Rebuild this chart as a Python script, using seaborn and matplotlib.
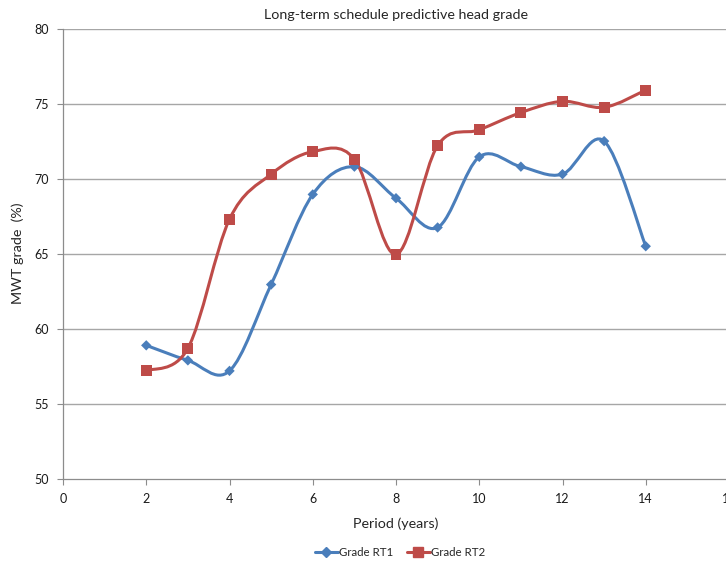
import numpy as np
import pandas as pd
import seaborn as sns
import matplotlib.pyplot as plt
from matplotlib.path import Path
from matplotlib.patches import PathPatch
from matplotlib.lines import Line2D

# values
periods = [2, 3, 4, 5, 6, 7, 8, 9, 10, 11, 12, 13, 14]
grade_rt1 = [58.9, 57.9, 57.2, 62.95, 68.95, 70.8, 68.7, 66.75, 71.45, 70.8, 70.3, 72.5, 65.5]
grade_rt2 = [57.2, 58.7, 67.3, 70.3, 71.8, 71.3, 64.95, 72.2, 73.25, 74.4, 75.15, 74.75, 75.9]
series_names = ['Grade RT1', 'Grade RT2']
y_ticks = [50, 55, 60, 65, 70, 75, 80]
x_ticks = [0, 2, 4, 6, 8, 10, 12, 14, 16]

BLUE = '#4A7EBB'
RED = '#BE4B48'


def smooth_path(xs, ys):
    # excel-like smoothed line: cubic bezier segments through each point
    pts = np.column_stack([xs, ys]).astype(float)
    n = len(pts)
    verts = [pts[0]]
    codes = [Path.MOVETO]
    for i in range(n - 1):
        p0 = pts[i - 1] if i > 0 else pts[i]
        p1 = pts[i]
        p2 = pts[i + 1]
        p3 = pts[i + 2] if i + 2 < n else pts[i + 1]
        c1 = p1 + (p2 - p0) / 6.0
        c2 = p2 - (p3 - p1) / 6.0
        verts += [c1, c2, p2]
        codes += [Path.CURVE4] * 3
    return Path(verts, codes)


df = pd.concat([
    pd.DataFrame({'Period': periods, 'Grade': grade_rt1, 'Series': series_names[0]}),
    pd.DataFrame({'Period': periods, 'Grade': grade_rt2, 'Series': series_names[1]}),
], ignore_index=True)

sns.set_style('white')
plt.rcParams['font.family'] = ['Lato', 'DejaVu Sans']

fig = plt.figure(figsize=(7.26, 5.64), dpi=100)
ax = fig.add_axes([63 / 726, 85 / 564, 666 / 726, 450.5 / 564])
ax.set_xlim(0, 16)
ax.set_ylim(50, 80)

for yv in y_ticks[1:]:
    ax.axhline(yv, color='#a6a6a6', lw=1.0, zorder=0)

# smoothed lines
for name, vals, col in [(series_names[0], grade_rt1, BLUE), (series_names[1], grade_rt2, RED)]:
    ax.add_patch(PathPatch(smooth_path(periods, vals), facecolor='none',
                           edgecolor=col, lw=2.2, zorder=2, capstyle='round'))

sns.scatterplot(data=df, x='Period', y='Grade', hue='Series', style='Series',
                markers={series_names[0]: 'D', series_names[1]: 's'},
                palette={series_names[0]: BLUE, series_names[1]: RED},
                size='Series', sizes={series_names[0]: 28, series_names[1]: 62},
                edgecolor='none', legend=False, ax=ax, zorder=3)

ax.set_xticks(x_ticks)
ax.set_yticks(y_ticks)
ax.tick_params(axis='both', direction='out', length=4, width=0.8, color='#8c8c8c',
               labelsize=9, labelcolor='#1a1a1a', bottom=True, left=True, pad=6)
for side in ['top', 'right']:
    ax.spines[side].set_visible(False)
for side in ['left', 'bottom']:
    ax.spines[side].set_color('#8c8c8c')
    ax.spines[side].set_linewidth(0.9)

ax.set_title('Long-term schedule predictive head grade', fontsize=10.3, pad=7)
ax.set_xlabel('Period (years)', fontsize=10.3, labelpad=9)
ax.set_ylabel('MWT grade  (%)', fontsize=10.3, labelpad=8)

handles = [
    Line2D([], [], color=BLUE, lw=2.2, marker='D', markersize=5),
    Line2D([], [], color=RED, lw=2.2, marker='s', markersize=7),
]
fig.legend(handles, series_names, loc='center', bbox_to_anchor=(400 / 726, 1 - 553 / 564),
           ncol=2, frameon=False, fontsize=8.3, handlelength=2.0, handletextpad=0.1,
           columnspacing=1.2)

fig.savefig('out.png', dpi=100)
